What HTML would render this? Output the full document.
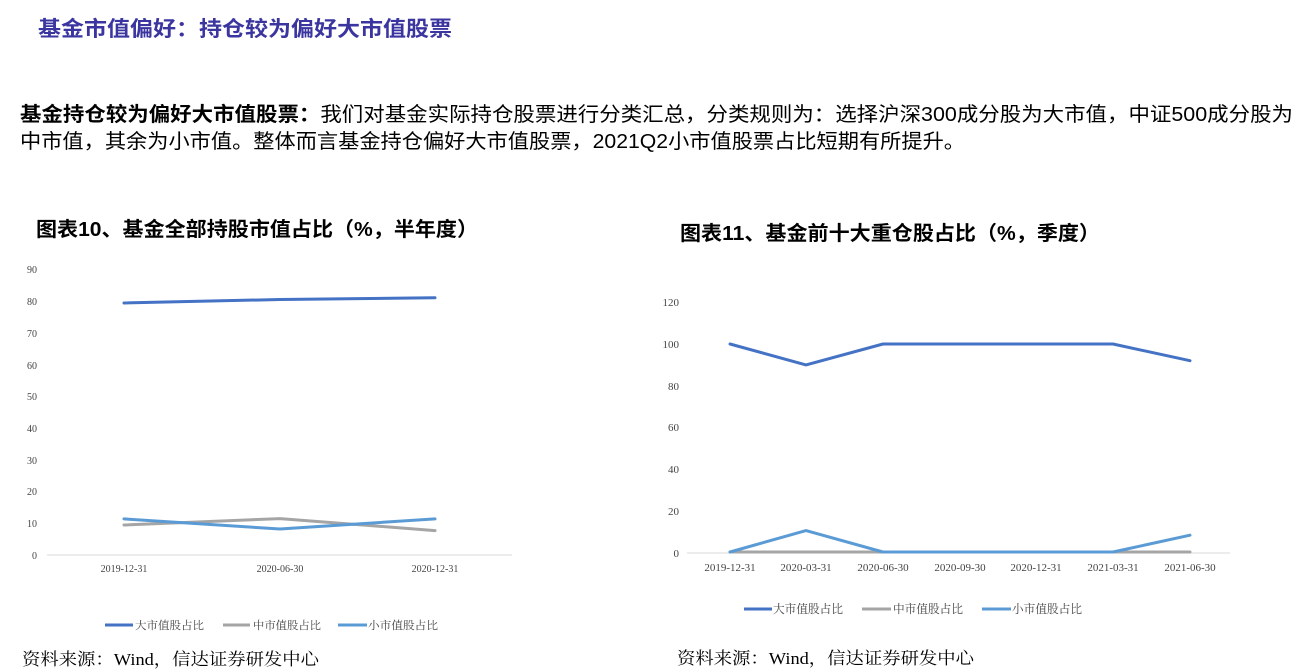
<!DOCTYPE html>
<html><head><meta charset="utf-8"><style>
html,body{margin:0;padding:0;background:#fff;width:1297px;height:671px;overflow:hidden}
svg{display:block}
</style></head><body>
<svg width="1297" height="671" xmlns="http://www.w3.org/2000/svg" font-family="'Liberation Sans','Noto Sans CJK SC',sans-serif">
<text x="38" y="36" font-size="21" font-weight="bold" fill="#3b35a0" textLength="414" lengthAdjust="spacingAndGlyphs">基金市值偏好：持仓较为偏好大市值股票</text>
<text x="20" y="121" font-size="20" fill="#000" textLength="1273" lengthAdjust="spacingAndGlyphs"><tspan font-weight="bold">基金持仓较为偏好大市值股票：</tspan>我们对基金实际持仓股票进行分类汇总，分类规则为：选择沪深300成分股为大市值，中证500成分股为</text>
<text x="20" y="148" font-size="20" fill="#000" textLength="945" lengthAdjust="spacingAndGlyphs">中市值，其余为小市值。整体而言基金持仓偏好大市值股票，2021Q2小市值股票占比短期有所提升。</text>

<text x="36" y="236" font-size="20" font-weight="bold" textLength="442" lengthAdjust="spacingAndGlyphs">图表10、基金全部持股市值占比（%，半年度）</text>
<text x="680" y="240" font-size="20" font-weight="bold" textLength="420" lengthAdjust="spacingAndGlyphs">图表11、基金前十大重仓股占比（%，季度）</text>

<!-- chart 1 -->
<g font-family="'Liberation Serif','Noto Serif CJK SC',serif" font-size="10" fill="#444" text-anchor="end">
<text x="37" y="559">0</text><text x="37" y="527">10</text><text x="37" y="495">20</text><text x="37" y="464">30</text><text x="37" y="432">40</text><text x="37" y="400">50</text><text x="37" y="369">60</text><text x="37" y="337">70</text><text x="37" y="305">80</text><text x="37" y="273">90</text>
</g>
<line x1="47" y1="555" x2="512" y2="555" stroke="#d9d9d9" stroke-width="1"/>
<g font-family="'Liberation Serif',serif" font-size="10" fill="#444" text-anchor="middle">
<text x="124" y="572">2019-12-31</text><text x="280" y="572">2020-06-30</text><text x="435" y="572">2020-12-31</text>
</g>
<g fill="none" stroke-width="3" stroke-linejoin="round" stroke-linecap="round">
<polyline points="124,303 280,299.5 435,297.7" stroke="#4472c4"/>
<polyline points="124,525 280,518.6 435,530.6" stroke="#a5a5a5"/>
<polyline points="124,518.9 280,529 435,518.9" stroke="#5b9bd5"/>
</g>
<g font-size="11" fill="#444" font-family="'Noto Serif CJK SC',serif">
<line x1="105" y1="625" x2="133" y2="625" stroke="#4472c4" stroke-width="3"/><text x="135" y="629" textLength="69" lengthAdjust="spacingAndGlyphs">大市值股占比</text>
<line x1="223" y1="625" x2="250" y2="625" stroke="#a5a5a5" stroke-width="3"/><text x="253" y="629" textLength="68" lengthAdjust="spacingAndGlyphs">中市值股占比</text>
<line x1="338" y1="625" x2="367" y2="625" stroke="#5b9bd5" stroke-width="3"/><text x="368" y="629" textLength="70" lengthAdjust="spacingAndGlyphs">小市值股占比</text>
</g>

<!-- chart 2 -->
<g font-family="'Liberation Serif',serif" font-size="11" fill="#444" text-anchor="end">
<text x="679" y="557">0</text><text x="679" y="515">20</text><text x="679" y="473">40</text><text x="679" y="431">60</text><text x="679" y="390">80</text><text x="679" y="348">100</text><text x="679" y="306">120</text>
</g>
<line x1="687" y1="553" x2="1230" y2="553" stroke="#d9d9d9" stroke-width="1"/>
<g font-family="'Liberation Serif',serif" font-size="11" fill="#444" text-anchor="middle">
<text x="730" y="571">2019-12-31</text><text x="806" y="571">2020-03-31</text><text x="883" y="571">2020-06-30</text><text x="960" y="571">2020-09-30</text><text x="1036" y="571">2020-12-31</text><text x="1113" y="571">2021-03-31</text><text x="1190" y="571">2021-06-30</text>
</g>
<g fill="none" stroke-width="3" stroke-linejoin="round" stroke-linecap="round">
<polyline points="730,552 1190,552" stroke="#a5a5a5"/>
<polyline points="730,552 806,530.6 883,552 960,552 1036,552 1113,552 1190,535.2" stroke="#5b9bd5"/>
<polyline points="730,344 806,364.9 883,344 960,344 1036,344 1113,344 1190,360.7" stroke="#4472c4"/>
</g>
<g font-size="12" fill="#444" font-family="'Noto Serif CJK SC',serif">
<line x1="744" y1="609" x2="772" y2="609" stroke="#4472c4" stroke-width="3"/><text x="773" y="613" textLength="70" lengthAdjust="spacingAndGlyphs">大市值股占比</text>
<line x1="862" y1="609" x2="891" y2="609" stroke="#a5a5a5" stroke-width="3"/><text x="893" y="613" textLength="70" lengthAdjust="spacingAndGlyphs">中市值股占比</text>
<line x1="982" y1="609" x2="1011" y2="609" stroke="#5b9bd5" stroke-width="3"/><text x="1012" y="613" textLength="70" lengthAdjust="spacingAndGlyphs">小市值股占比</text>
</g>

<g font-family="'Liberation Serif','Noto Serif CJK SC',serif" font-size="17" fill="#000">
<text x="22" y="665" textLength="297" lengthAdjust="spacingAndGlyphs">资料来源：Wind，信达证券研发中心</text>
<text x="677" y="664" textLength="297" lengthAdjust="spacingAndGlyphs">资料来源：Wind，信达证券研发中心</text>
</g>
</svg>
</body></html>
